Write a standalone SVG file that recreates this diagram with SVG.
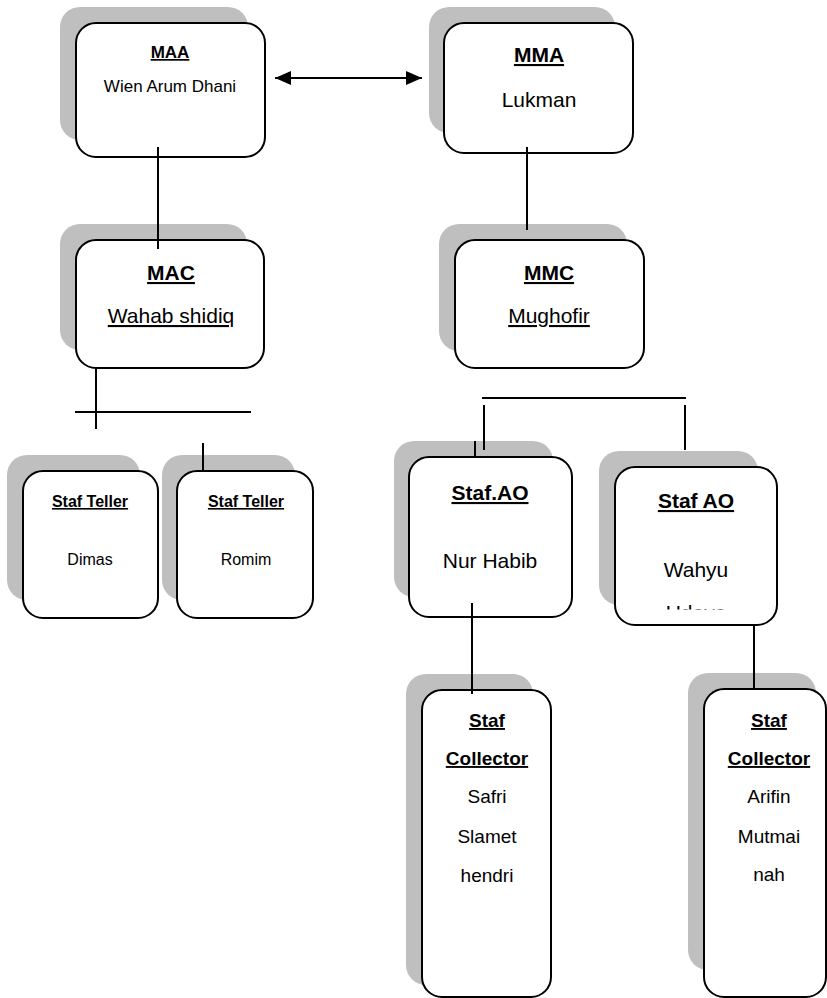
<svg xmlns="http://www.w3.org/2000/svg" width="827" height="998" viewBox="0 0 827 998">
<style>
.sh{fill:#bfbfbf;stroke:none}
.bx{fill:#ffffff;stroke:#000;stroke-width:2}
text{font-family:"Liberation Sans",Arial,sans-serif;fill:#000;text-anchor:middle}
.b{font-weight:bold;text-decoration:underline}
.u{text-decoration:underline}
.s16{font-size:16px}
.s17{font-size:17px}
.s19{font-size:19px}
.s21{font-size:21px}
.ln{stroke:#000;stroke-width:2;fill:none}
</style>
<defs>
<marker id="ah" markerUnits="userSpaceOnUse" viewBox="0 0 16 14" markerWidth="16" markerHeight="14" refX="16" refY="7" orient="auto-start-reverse">
<path d="M0,0 L16,7 L0,14 z" fill="#000"/>
</marker>
<clipPath id="clipAO2"><rect x="615" y="467" width="162" height="142.5"/></clipPath>
</defs>
<rect width="827" height="998" fill="#fff"/>

<g id="maa">
<rect class="sh" x="60" y="7" width="188" height="133" rx="20"/>
<rect class="bx" x="76" y="23" width="189" height="134" rx="20"/>
<text class="b s17" x="170" y="58">MAA</text>
<text class="s17" x="170" y="92">Wien Arum Dhani</text>
</g>

<g id="mma">
<rect class="sh" x="429" y="7" width="186" height="126" rx="20"/>
<rect class="bx" x="444" y="23" width="189" height="130" rx="20"/>
<text class="b s21" x="539" y="62">MMA</text>
<text class="s21" x="539" y="107">Lukman</text>
</g>

<g id="mac">
<rect class="sh" x="60" y="224" width="187" height="126" rx="20"/>
<rect class="bx" x="76" y="240" width="188" height="128" rx="20"/>
<text class="b s21" x="171" y="280">MAC</text>
<text class="u s21" x="171" y="323">Wahab shidiq</text>
</g>

<g id="mmc">
<rect class="sh" x="439" y="224" width="188" height="127" rx="20"/>
<rect class="bx" x="455" y="240" width="189" height="128" rx="20"/>
<text class="b s21" x="549" y="280">MMC</text>
<text class="u s21" x="549" y="323">Mughofir</text>
</g>

<g id="teller1">
<rect class="sh" x="7" y="455" width="133" height="145" rx="20"/>
<rect class="bx" x="23" y="471" width="135" height="147" rx="20"/>
<text class="b s16" x="90" y="507">Staf Teller</text>
<text class="s16" x="90" y="565">Dimas</text>
</g>

<g id="teller2">
<rect class="sh" x="162" y="455" width="133" height="145" rx="20"/>
<rect class="bx" x="177" y="471" width="136" height="147" rx="20"/>
<text class="b s16" x="246" y="507">Staf Teller</text>
<text class="s16" x="246" y="565">Romim</text>
</g>

<g id="ao1">
<rect class="sh" x="394" y="441" width="159" height="156" rx="20"/>
<rect class="bx" x="409" y="457" width="163" height="160" rx="20"/>
<text class="b s21" x="490" y="500">Staf.AO</text>
<text class="s21" x="490" y="568">Nur Habib</text>
</g>

<g id="ao2">
<rect class="sh" x="599" y="451" width="159" height="154" rx="20"/>
<rect class="bx" x="615" y="467" width="162" height="158" rx="20"/>
<text class="b s21" x="696" y="508">Staf AO</text>
<text class="s21" x="696" y="577">Wahyu</text>
<text class="s21" x="696" y="620" clip-path="url(#clipAO2)">Udaya</text>
</g>

<g id="col1">
<rect class="sh" x="406" y="674" width="127" height="311" rx="20"/>
<rect class="bx" x="422" y="690" width="129" height="307" rx="20"/>
<text class="b s19" x="487" y="727">Staf</text>
<text class="b s19" x="487" y="765">Collector</text>
<text class="s19" x="487" y="803">Safri</text>
<text class="s19" x="487" y="843">Slamet</text>
<text class="s19" x="487" y="882">hendri</text>
</g>

<g id="col2">
<rect class="sh" x="688" y="673" width="128" height="297" rx="20"/>
<rect class="bx" x="704" y="689" width="122" height="308" rx="20"/>
<text class="b s19" x="769" y="727">Staf</text>
<text class="b s19" x="769" y="765">Collector</text>
<text class="s19" x="769" y="803">Arifin</text>
<text class="s19" x="769" y="843">Mutmai</text>
<text class="s19" x="769" y="881">nah</text>
</g>

<g id="connectors">
<line class="ln" x1="275" y1="78" x2="422" y2="78" marker-start="url(#ah)" marker-end="url(#ah)"/>
<line class="ln" x1="158" y1="147" x2="158" y2="249"/>
<line class="ln" x1="96" y1="368" x2="96" y2="429"/>
<line class="ln" x1="75" y1="412" x2="251" y2="412"/>
<line class="ln" x1="203" y1="443" x2="203" y2="471"/>
<line class="ln" x1="527" y1="147" x2="527" y2="230"/>
<line class="ln" x1="482" y1="398" x2="686" y2="398"/>
<line class="ln" x1="484" y1="405" x2="484" y2="450"/>
<line class="ln" x1="685" y1="405" x2="685" y2="450"/>
<line class="ln" x1="475" y1="441" x2="475" y2="458"/>
<line class="ln" x1="472" y1="603" x2="472" y2="694"/>
<line class="ln" x1="754" y1="625" x2="754" y2="690"/>
</g>
</svg>
